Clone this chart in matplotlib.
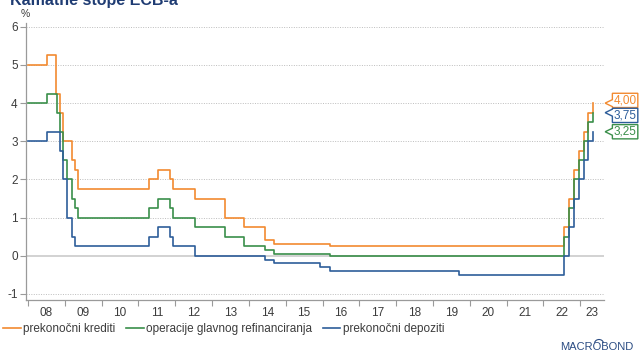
"""
Kamatne stope ECB-a: overnight lending, main refinancing and deposit facility rates.
"""

import numpy as np
import pandas as pd
import matplotlib
matplotlib.use("Agg")
import matplotlib.pyplot as plt
import matplotlib.transforms as mtransforms
from matplotlib.patches import Polygon, Arc

plt.rcParams["font.family"] = ["Liberation Sans", "DejaVu Sans"]

# Policy rate changes (effective date, new rate in %)
mlf_dates = ["2008-01-01", "2008-07-09", "2008-10-09", "2008-11-12",
             "2008-12-10", "2009-03-11", "2009-04-08", "2009-05-13", "2011-04-13",
             "2011-07-13", "2011-11-09", "2011-12-14", "2012-07-11", "2013-05-08",
             "2013-11-13", "2014-06-11", "2014-09-10", "2016-03-16", "2022-07-27",
             "2022-09-14", "2022-11-02", "2022-12-21", "2023-02-08", "2023-03-22",
             "2023-05-10"]
mlf_rates = [5.00, 5.25, 4.25, 3.75, 3.00, 2.50, 2.25, 1.75, 2.00, 2.25, 2.00,
             1.75, 1.50, 1.00, 0.75, 0.40, 0.30, 0.25, 0.75, 1.50, 2.25, 2.75, 3.25,
             3.75, 4.00]

mro_dates = ["2008-01-01", "2008-07-09", "2008-10-15", "2008-11-12", "2008-12-10",
             "2009-01-21", "2009-03-11", "2009-04-08", "2009-05-13", "2011-04-13",
             "2011-07-13", "2011-11-09", "2011-12-14", "2012-07-11", "2013-05-08",
             "2013-11-13", "2014-06-11", "2014-09-10", "2016-03-16", "2022-07-27",
             "2022-09-14", "2022-11-02", "2022-12-21", "2023-02-08", "2023-03-22",
             "2023-05-10"]
mro_rates = [4.00, 4.25, 3.75, 3.25, 2.50, 2.00, 1.50, 1.25, 1.00, 1.25, 1.50, 1.25,
             1.00, 0.75, 0.50, 0.25, 0.15, 0.05, 0.00, 0.50, 1.25, 2.00, 2.50, 3.00,
             3.50, 3.75]

df_dates = ["2008-01-01", "2008-07-09", "2008-11-12",
            "2008-12-10", "2009-01-21", "2009-03-11", "2009-04-08", "2011-04-13",
            "2011-07-13", "2011-11-09", "2011-12-14", "2012-07-11", "2014-06-11",
            "2014-09-10", "2015-12-09", "2016-03-16", "2019-09-18", "2022-07-27",
            "2022-09-14", "2022-11-02", "2022-12-21", "2023-02-08", "2023-03-22",
            "2023-05-10"]
df_rates = [3.00, 3.25, 2.75, 2.00, 1.00, 0.50, 0.25, 0.50, 0.75, 0.50,
            0.25, 0.00, -0.10, -0.20, -0.30, -0.40, -0.50, 0.00, 0.75, 1.50, 2.00,
            2.50, 3.00, 3.25]

last_date = "2023-05-12"

series_labels = ["prekonočni krediti", "operacije glavnog refinanciranja",
                 "prekonočni depoziti"]
series_colors = ["#F28A30", "#3A8F4A", "#2D5D9A"]

# end-of-series value tags (value, box colour)
tag_values = [4.00, 3.75, 3.25]
tag_colors = ["#F28A30", "#2D5D9A", "#3A8F4A"]

years = list(range(2008, 2024))
year_labels = [f"{y % 100:02d}" for y in years]

GRID = "#BDBDBD"
AXIS = "#9A9A9A"
TEXT = "#3C3C3C"
NAVY = "#1F3C73"


def step_series(dates, rates):
    d = pd.to_datetime(dates + [last_date])
    r = list(rates) + [rates[-1]]
    return d, r


fig = plt.figure(figsize=(6.41, 3.52), dpi=100)
ax = fig.add_axes([26 / 641, 52 / 352, 578 / 641, 277 / 352])

for (dates, rates), label, color in zip(
        [(mlf_dates, mlf_rates), (mro_dates, mro_rates), (df_dates, df_rates)],
        series_labels, series_colors):
    d, r = step_series(dates, rates)
    ax.step(d, r, where="post", color=color, linewidth=1.2, label=label, zorder=3)

ax.set_xlim(pd.Timestamp("2007-12-12"), pd.Timestamp("2023-08-25"))
ax.set_ylim(-1.16, 6.1)

# y axis
ax.set_yticks(range(-1, 7))
ax.set_yticklabels([str(v) for v in range(-1, 7)])
for v in range(-1, 7):
    if v == 0:
        ax.axhline(0, color="#CFCFCF", linewidth=1.3, zorder=1)
    else:
        ax.axhline(v, color=GRID, linewidth=0.7, linestyle=(0, (1, 1.5)), zorder=1)

# x axis: year ticks at boundaries, labels mid-year
ax.set_xticks([pd.Timestamp(f"{y}-01-01") for y in years])
ax.xaxis.set_major_formatter(plt.NullFormatter())
ax.set_xticks([pd.Timestamp(f"{y}-07-02") for y in years[:-1]]
              + [pd.Timestamp("2023-04-27")], minor=True)
ax.set_xticklabels(year_labels, minor=True)

ax.tick_params(axis="x", which="major", length=4, width=0.8, color=AXIS, direction="out")
ax.tick_params(axis="x", which="minor", length=0, pad=5, labelsize=8.5, labelcolor=TEXT)
ax.tick_params(axis="y", length=4, width=0.8, color=AXIS, labelsize=8.5,
               labelcolor=TEXT, pad=2)

for side in ["top", "right"]:
    ax.spines[side].set_visible(False)
for side in ["left", "bottom"]:
    ax.spines[side].set_color(AXIS)
    ax.spines[side].set_linewidth(0.9)

# value tags to the right of the plot
trans = mtransforms.blended_transform_factory(ax.transAxes, ax.transData)
unit_px = 277 / (6.1 + 1.16)
half_h = 7.5 / unit_px
centers = list(tag_values)
for i in range(1, len(centers)):
    if centers[i - 1] - centers[i] < 2 * half_h:
        mid = (centers[i - 1] + centers[i]) / 2
        centers[i - 1] = mid + half_h
        centers[i] = mid - half_h
tip_x, box_l, box_r = 1.002, 1.0145, 1.0585
notch = 3.5 / unit_px
for val, cy, color in zip(tag_values, centers, tag_colors):
    top, bot = cy + half_h - 0.01, cy - half_h + 0.01
    verts = [(tip_x, val), (box_l, min(val + notch, top)), (box_l, top), (box_r, top),
             (box_r, bot), (box_l, bot), (box_l, max(val - notch, bot))]
    ax.add_patch(Polygon(verts, closed=True, transform=trans, facecolor="white",
                         edgecolor=color, linewidth=1.0, clip_on=False, zorder=4))
    ax.text((box_l + box_r) / 2, cy, f"{val:.2f}".replace(".", ","), transform=trans,
            ha="center", va="center", fontsize=8.5, color=color, clip_on=False, zorder=5)

# title (runs off the top edge) and unit
fig.text(10 / 641, 1 - 5 / 352, "Kamatne stope ECB-a", fontsize=11.5,
         fontweight="bold", color=NAVY, ha="left", va="baseline")
fig.text(25 / 641, 1 - 14 / 352, "%", fontsize=7.5, color=TEXT, ha="center",
         va="center")

# legend
fig.legend(loc="center left", bbox_to_anchor=(3 / 641, 1 - 329 / 352), ncol=3,
           frameon=False, fontsize=8.5, handlelength=1.5, handletextpad=0.2,
           columnspacing=0.9, borderpad=0, borderaxespad=0, labelcolor=TEXT)

# logo
fig.text(597 / 641, 1 - 347 / 352, "MACROBOND", fontsize=8, color="#2B4C83",
         ha="center", va="center")
fig.add_artist(Arc((599 / 641, 1 - 343.5 / 352), 9 / 641, 8 / 352, theta1=15,
                   theta2=165, transform=fig.transFigure, color="#2B4C83",
                   linewidth=0.8))

fig.savefig("out.png", dpi=100)
plt.close(fig)
